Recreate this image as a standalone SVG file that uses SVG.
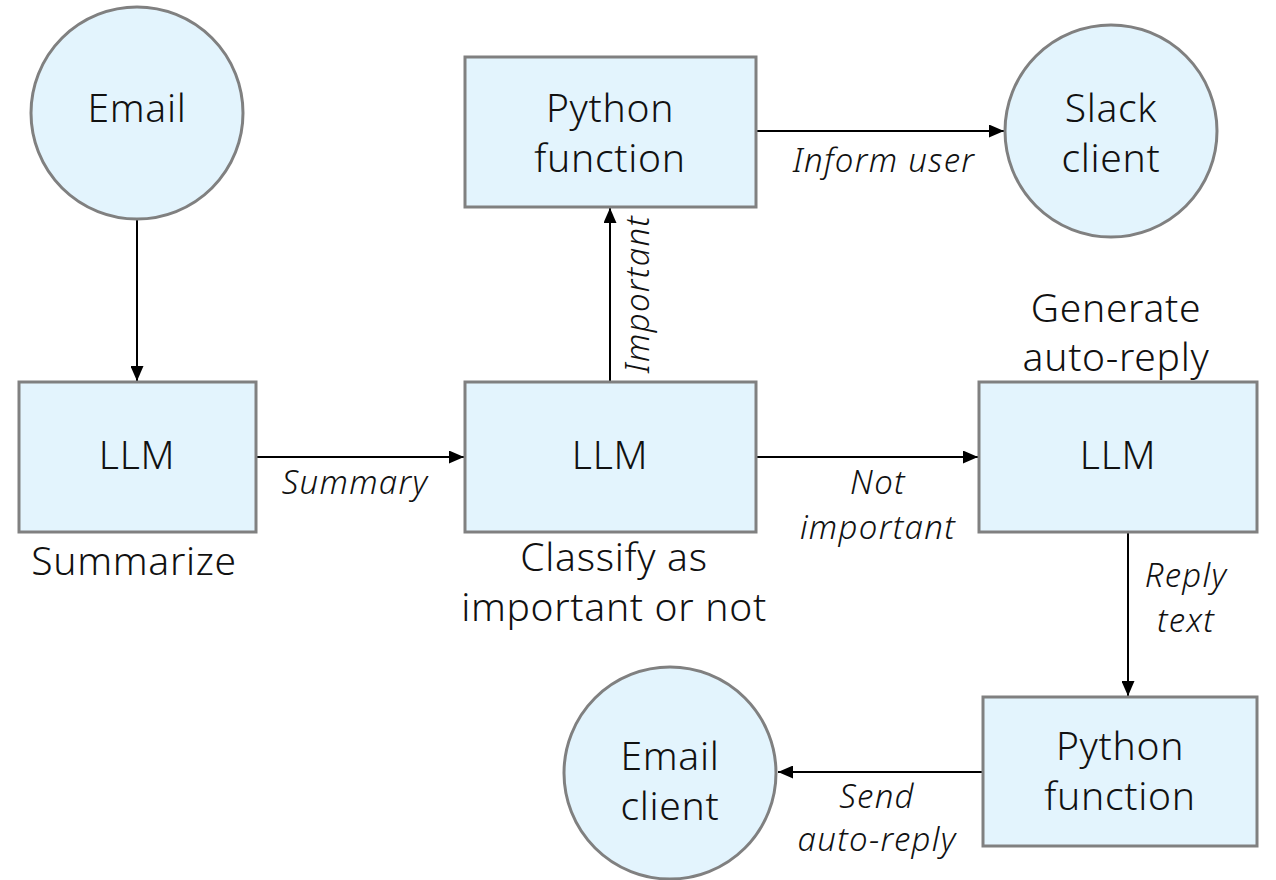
<svg xmlns="http://www.w3.org/2000/svg" width="1276" height="880" viewBox="0 0 1276 880">
  <defs>
    <marker id="arrow" viewBox="0 0 15 13" refX="15" refY="6.5" markerWidth="15" markerHeight="13" markerUnits="userSpaceOnUse" orient="auto">
      <path d="M0,0 L15,6.5 L0,13 Z" fill="#000"/>
    </marker>
  </defs>
  <style>
    .shape { fill: #e3f4fd; stroke: #808080; stroke-width: 3; }
    .node-text { font-family: "Noto Sans", "Open Sans", sans-serif; font-weight: 300; font-size: 39px; letter-spacing: 0.7px; fill: #111; text-anchor: middle; }
    .edge { stroke: #000; stroke-width: 2; fill: none; marker-end: url(#arrow); }
    .edge-label { font-family: "Noto Sans", "Open Sans", sans-serif; font-weight: 300; font-style: italic; font-size: 33px; letter-spacing: 1.3px; fill: #111; text-anchor: middle; }
  </style>
  <rect width="1276" height="880" fill="#fff"/>

  <!-- connectors -->
  <g id="connectors">
    <line class="edge" x1="137" y1="219" x2="137" y2="381"/>
    <line class="edge" x1="257" y1="457" x2="464" y2="457"/>
    <text class="edge-label" x="355" y="494">Summary</text>
    <line class="edge" x1="610" y1="382" x2="610" y2="208"/>
    <text class="edge-label" transform="translate(649,294) rotate(-90)">Important</text>
    <line class="edge" x1="757" y1="131" x2="1004" y2="131"/>
    <text class="edge-label" x="884" y="172">Inform user</text>
    <line class="edge" x1="757" y1="457" x2="978" y2="457"/>
    <text class="edge-label" x="878" y="494">Not</text>
    <text class="edge-label" x="878" y="539">important</text>
    <line class="edge" x1="1128" y1="533" x2="1128" y2="696"/>
    <text class="edge-label" x="1186" y="587">Reply</text>
    <text class="edge-label" x="1186" y="632">text</text>
    <line class="edge" x1="982" y1="772" x2="778" y2="772"/>
    <text class="edge-label" x="877" y="808">Send</text>
    <text class="edge-label" x="877" y="851">auto-reply</text>
  </g>

  <!-- nodes -->
  <g id="email">
    <circle class="shape" cx="137" cy="113" r="106"/>
    <text class="node-text" x="137" y="122">Email</text>
  </g>
  <g id="llm-summarize">
    <rect class="shape" x="19" y="382" width="237" height="150"/>
    <text class="node-text" x="137" y="469">LLM</text>
    <text class="node-text" x="134" y="575">Summarize</text>
  </g>
  <g id="llm-classify">
    <rect class="shape" x="465" y="382" width="291" height="150"/>
    <text class="node-text" x="610" y="469">LLM</text>
    <text class="node-text" x="614" y="571">Classify as</text>
    <text class="node-text" x="614" y="621">important or not</text>
  </g>
  <g id="python-inform">
    <rect class="shape" x="465" y="57" width="291" height="150"/>
    <text class="node-text" x="610" y="122">Python</text>
    <text class="node-text" x="610" y="172">function</text>
  </g>
  <g id="slack-client">
    <circle class="shape" cx="1111" cy="131" r="106"/>
    <text class="node-text" x="1111" y="122">Slack</text>
    <text class="node-text" x="1111" y="172">client</text>
  </g>
  <g id="llm-reply">
    <rect class="shape" x="979" y="382" width="278" height="150"/>
    <text class="node-text" x="1118" y="469">LLM</text>
    <text class="node-text" x="1116" y="322">Generate</text>
    <text class="node-text" x="1116" y="371">auto-reply</text>
  </g>
  <g id="python-send">
    <rect class="shape" x="983" y="697" width="274" height="149"/>
    <text class="node-text" x="1120" y="760">Python</text>
    <text class="node-text" x="1120" y="810">function</text>
  </g>
  <g id="email-client">
    <circle class="shape" cx="670" cy="773" r="106"/>
    <text class="node-text" x="670" y="770">Email</text>
    <text class="node-text" x="670" y="820">client</text>
  </g>
</svg>
